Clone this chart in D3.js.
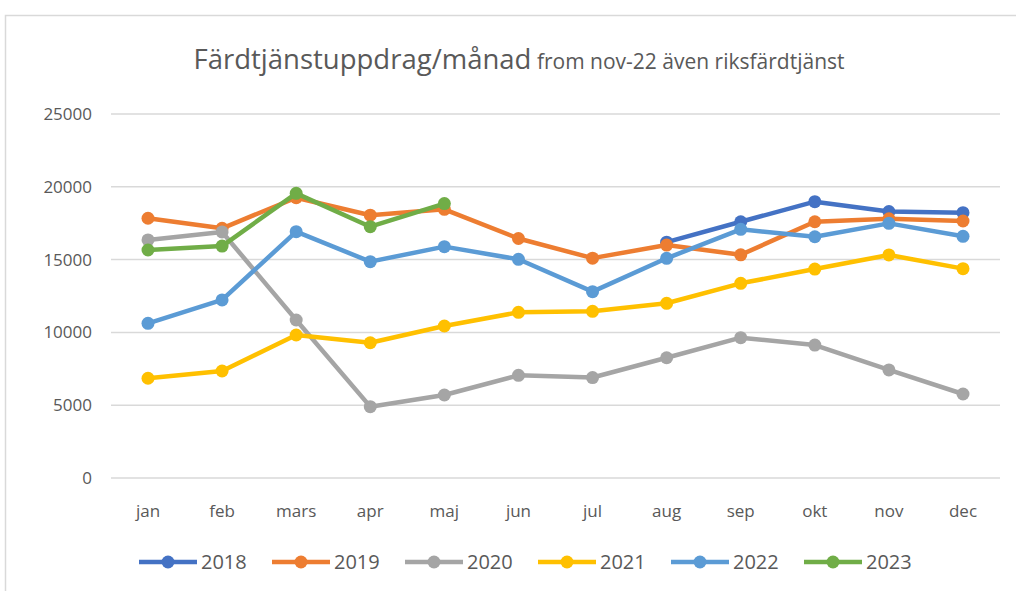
<!DOCTYPE html>
<html>
<head>
<meta charset="utf-8">
<script src="https://cdn.jsdelivr.net/npm/d3@7"></script>
<style>
  body { margin: 0; background: #fff; }
  svg text { font-family: "Open Sans", sans-serif; fill: #595959; }
</style>
</head>
<body>
<div id="chart"></div>
<script>
// months on the x axis
var months = ["jan", "feb", "mars", "apr", "maj", "jun", "jul", "aug", "sep", "okt", "nov", "dec"];
var years = ["2018", "2019", "2020", "2021", "2022", "2023"];
var yTicks = [0, 5000, 10000, 15000, 20000, 25000];

// values (null = no point drawn)
var v2018 = [null, null, null, null, null, null, null, 16200, 17600, 18980, 18300, 18220];
var v2019 = [17840, 17150, 19250, 18050, 18450, 16450, 15100, 16000, 15330, 17600, 17800, 17650];
var v2020 = [16350, 16900, 10850, 4900, 5700, 7050, 6900, 8260, 9640, 9130, 7420, 5770];
var v2021 = [6850, 7350, 9820, 9290, 10440, 11380, 11450, 12000, 13370, 14350, 15320, 14380];
var v2022 = [10620, 12230, 16920, 14860, 15890, 15020, 12800, 15090, 17080, 16570, 17490, 16600];
var v2023 = [15660, 15930, 19550, 17260, 18850, null, null, null, null, null, null, null];

var colors = ["#4472C4", "#ED7D31", "#A5A5A5", "#FFC000", "#5B9BD5", "#70AD47"];
var seriesValues = [v2018, v2019, v2020, v2021, v2022, v2023];

var width = 1016, height = 591;

var svg = d3.select("#chart").append("svg")
  .attr("width", width)
  .attr("height", height);

// chart border
svg.append("rect")
  .attr("x", 5.5).attr("y", 15.5)
  .attr("width", 1020).attr("height", 590)
  .attr("fill", "none")
  .attr("stroke", "#d9d9d9")
  .attr("stroke-width", 1.5);

var x = d3.scalePoint().domain(months).range([148, 963]);
var y = d3.scaleLinear().domain([0, 25000]).range([478, 114]);

// gridlines
svg.selectAll(".grid")
  .data(yTicks)
  .enter().append("line")
  .attr("x1", 111).attr("x2", 1000)
  .attr("y1", function(d) { return y(d); })
  .attr("y2", function(d) { return y(d); })
  .attr("stroke", "#d9d9d9")
  .attr("stroke-width", 1.5);

// y labels
svg.selectAll(".ylab")
  .data(yTicks)
  .enter().append("text")
  .attr("x", 92)
  .attr("y", function(d) { return y(d) + 6; })
  .attr("text-anchor", "end")
  .style("font-size", "17px")
  .text(function(d) { return d; });

// x labels
svg.selectAll(".xlab")
  .data(months)
  .enter().append("text")
  .attr("x", function(d) { return x(d); })
  .attr("y", 517)
  .attr("text-anchor", "middle")
  .style("font-size", "17px")
  .text(function(d) { return d; });

// title
var title = svg.append("text")
  .attr("x", 519).attr("y", 69)
  .attr("text-anchor", "middle");
title.append("tspan").style("font-size", "27.5px").text("Färdtjänstuppdrag/månad");
title.append("tspan").style("font-size", "21px").text(" from nov-22 även riksfärdtjänst");

var line = d3.line()
  .defined(function(d) { return d != null; })
  .x(function(d, i) { return x(months[i]); })
  .y(function(d) { return y(d); });

seriesValues.forEach(function(vals, s) {
  var g = svg.append("g");
  g.append("path")
    .attr("d", line(vals))
    .attr("fill", "none")
    .attr("stroke", colors[s])
    .attr("stroke-width", 4.5)
    .attr("stroke-linejoin", "round");
  g.selectAll("circle")
    .data(vals.map(function(v, i) { return {v: v, i: i}; }).filter(function(d) { return d.v != null; }))
    .enter().append("circle")
    .attr("cx", function(d) { return x(months[d.i]); })
    .attr("cy", function(d) { return y(d.v); })
    .attr("r", 6.5)
    .attr("fill", colors[s]);
});

// legend
var legend = svg.selectAll(".leg")
  .data(years)
  .enter().append("g")
  .attr("transform", function(d, i) { return "translate(" + (139 + i * 133) + ",562)"; });
legend.append("line")
  .attr("x1", 0).attr("x2", 58)
  .attr("stroke", function(d, i) { return colors[i]; })
  .attr("stroke-width", 4.5);
legend.append("circle")
  .attr("cx", 29).attr("r", 6.5)
  .attr("fill", function(d, i) { return colors[i]; });
legend.append("text")
  .attr("x", 62).attr("y", 7)
  .style("font-size", "20px")
  .text(function(d) { return d; });
</script>
</body>
</html>
